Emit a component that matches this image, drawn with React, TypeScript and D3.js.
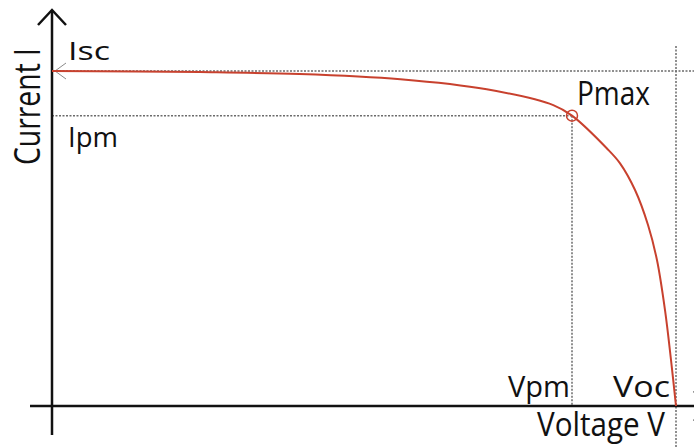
import { useRef, useEffect } from 'react'
import * as d3 from 'd3'

const W = 694
const H = 447

// I-V curve of a solar cell
const VOLTAGE = [0, 0.142, 0.238, 0.335, 0.418, 0.482, 0.5, 0.5334, 0.5462, 0.5606, 0.5731, 0.5817, 0.5894, 0.5952, 0.6]
const CURRENT = [3.0, 2.99, 2.973, 2.926, 2.836, 2.695, 2.6, 2.308, 2.173, 1.934, 1.621, 1.307, 0.86, 0.412, 0]

const ISC = 3.0
const VOC = 0.6
const VPM = 0.5
const IPM = 2.6

const RED = '#c8412e'
const DOT = '#6b6b6b'
const FONT = "'Open Sans', sans-serif"

export default function App() {
  const svgRef = useRef<SVGSVGElement>(null)

  useEffect(() => {
    if (!svgRef.current) return
    const svg = d3.select(svgRef.current)
    svg.selectAll('*').remove()

    const x = d3.scaleLinear().domain([0, VOC]).range([52, 676])
    const y = d3.scaleLinear().domain([0, ISC]).range([406, 71])

    const dotted = (x1: number, y1: number, x2: number, y2: number) =>
      svg.append('line')
        .attr('x1', x1).attr('y1', y1).attr('x2', x2).attr('y2', y2)
        .attr('stroke', DOT).attr('stroke-width', 1.5).attr('stroke-dasharray', '2,1.5')

    // reference lines
    dotted(x(0), y(ISC), W, y(ISC))
    dotted(x(0), y(IPM), x(VPM), y(IPM))
    dotted(x(VPM), y(IPM), x(VPM), y(0))
    dotted(x(VOC), 46, x(VOC), H)

    // axes
    const axis = svg.append('g').attr('stroke', '#111').attr('stroke-width', 2.5).attr('fill', 'none')
    axis.append('line').attr('x1', x(0)).attr('y1', 10).attr('x2', x(0)).attr('y2', 435)
    axis.append('path').attr('d', `M${x(0) - 14},25L${x(0)},10L${x(0) + 14},25`)
    axis.append('line').attr('x1', 30).attr('y1', y(0)).attr('x2', 720).attr('y2', y(0))
    axis.append('path').attr('d', `M694,391L709,${y(0)}L694,421`)

    // Isc open arrow
    svg.append('path')
      .attr('d', `M${x(0) + 14},${y(ISC) - 8}L${x(0) + 3},${y(ISC)}L${x(0) + 14},${y(ISC) + 8}`)
      .attr('fill', 'none').attr('stroke', '#8a8a8a').attr('stroke-width', 1)

    // curve
    const pts = VOLTAGE.map((v, i) => [v, CURRENT[i]] as [number, number])
    const line = d3.line<[number, number]>()
      .x((d) => x(d[0]))
      .y((d) => y(d[1]))
      .curve(d3.curveCatmullRom.alpha(0.5))
    svg.append('path')
      .attr('d', line(pts))
      .attr('fill', 'none').attr('stroke', RED).attr('stroke-width', 2)

    // Pmax marker
    svg.append('circle')
      .attr('cx', x(VPM)).attr('cy', y(IPM)).attr('r', 5.5)
      .attr('fill', 'none').attr('stroke', RED).attr('stroke-width', 1.5)

    // labels
    const label = (t: string, lx: number, ly: number, size: number, len: number) =>
      svg.append('text')
        .attr('x', lx).attr('y', ly)
        .attr('font-family', FONT).attr('font-size', size)
        .attr('fill', '#111')
        .attr('textLength', len).attr('lengthAdjust', 'spacingAndGlyphs')
        .text(t)

    label('Isc', x(0) + 16, y(ISC) - 11, 26, 42)
    label('Ipm', x(0) + 16, y(IPM) + 31, 28, 50)
    label('Pmax', x(VPM) + 5, y(IPM) - 11, 32, 73)
    label('Vpm', x(VPM) - 64, y(0) - 9, 30, 62)
    label('Voc', x(VOC) - 63, y(0) - 9, 30, 57)
    label('Voltage V', 537, 436, 32, 128)
    label('Current I', 0, 0, 36, 117)
      .attr('transform', 'translate(40,165) rotate(-90)')
  }, [])

  return (
    <svg
      ref={svgRef}
      width={W}
      height={H}
      style={{ position: 'absolute', left: 0, top: 0, background: '#fff' }}
    />
  )
}
